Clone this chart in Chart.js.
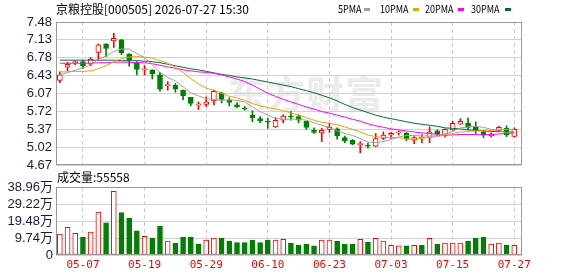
<!DOCTYPE html>
<html><head><meta charset="utf-8">
<script src="https://cdn.jsdelivr.net/npm/chart.js@4/dist/chart.umd.min.js"></script>
<style>
body{margin:0;background:#fff;}
#wrap{position:relative;width:578px;height:276px;overflow:hidden;font-family:'Noto Sans CJK SC',sans-serif;}
.t{position:absolute;white-space:nowrap;color:#000;}
canvas{position:absolute;left:0;}
.sw{position:absolute;top:8px;width:6px;height:3px;}
</style></head><body>
<div id="wrap">
 <div class="t" style="left:228px;top:64px;font-size:38px;font-weight:bold;color:#ebebeb;letter-spacing:1px;">东方财富</div>
 <canvas id="pc" width="578" height="178" style="top:0"></canvas>
 <canvas id="vc" width="578" height="106" style="top:170px"></canvas>
 <div class="t" style="left:56px;top:0px;font-size:12px;line-height:17px;">京粮控股[000505] 2026-07-27 15:30</div>
 <div class="t" style="left:338px;top:1px;font-size:11px;line-height:15px;transform:scaleX(0.82);transform-origin:left;">5PMA</div>
 <div class="sw" style="left:364px;background:#a0a0a0"></div>
 <div class="t" style="left:380px;top:1px;font-size:11px;line-height:15px;transform:scaleX(0.82);transform-origin:left;">10PMA</div>
 <div class="sw" style="left:413px;background:#f0a000"></div>
 <div class="t" style="left:425px;top:1px;font-size:11px;line-height:15px;transform:scaleX(0.82);transform-origin:left;">20PMA</div>
 <div class="sw" style="left:458px;background:#ff00ff"></div>
 <div class="t" style="left:471px;top:1px;font-size:11px;line-height:15px;transform:scaleX(0.82);transform-origin:left;">30PMA</div>
 <div class="sw" style="left:505px;background:#006e32"></div>
 <div class="t" style="left:57px;top:169px;font-size:12px;line-height:16px;">成交量:55558</div>
</div>
<script>
const dates = ['04-29','04-30','05-06','05-07','05-08','05-11','05-12','05-13','05-14','05-15',
 '05-18','05-19','05-20','05-21','05-22','05-25','05-26','05-27','05-28','05-29',
 '06-01','06-02','06-03','06-04','06-05','06-08','06-09','06-10','06-11','06-12',
 '06-15','06-16','06-17','06-18','06-22','06-23','06-24','06-25','06-26','06-29',
 '06-30','07-01','07-02','07-03','07-06','07-07','07-08','07-09','07-10','07-13',
 '07-14','07-15','07-16','07-17','07-20','07-21','07-22','07-23','07-24','07-27'];
const xTickIdx = [3,11,19,27,35,43,51,59];

const open  = [6.33,6.59,6.68,6.70,6.65,6.88,7.05,7.11,7.13,6.85,6.67,6.54,6.54,6.44,6.23,6.24,6.14,6.00,5.85,5.86,
               5.93,6.08,5.95,5.85,5.79,5.65,5.58,5.52,5.42,5.55,5.63,5.62,5.53,5.35,5.30,5.37,5.38,5.21,5.16,5.07,
               5.06,5.04,5.19,5.26,5.30,5.29,5.16,5.20,5.21,5.34,5.25,5.36,5.47,5.49,5.42,5.32,5.24,5.34,5.39,5.23];
const high  = [6.50,6.69,6.72,6.72,6.78,7.05,7.05,7.26,7.14,6.86,6.70,6.62,6.54,6.49,6.31,6.27,6.14,6.00,5.91,6.01,
               6.14,6.10,5.99,5.89,5.82,5.74,5.62,5.59,5.60,5.66,5.72,5.66,5.53,5.40,5.39,5.49,5.40,5.24,5.17,5.13,
               5.10,5.29,5.32,5.31,5.34,5.31,5.23,5.27,5.42,5.36,5.38,5.53,5.58,5.59,5.52,5.35,5.30,5.43,5.44,5.40];
const low   = [6.29,6.52,6.64,6.57,6.62,6.73,6.80,6.98,6.84,6.61,6.44,6.44,6.36,6.12,6.14,6.10,5.95,5.83,5.76,5.82,
               5.85,5.89,5.83,5.79,5.75,5.52,5.50,5.39,5.41,5.50,5.55,5.50,5.37,5.29,5.13,5.31,5.18,5.11,5.07,4.91,
               5.00,5.03,5.17,5.19,5.26,5.15,5.09,5.11,5.11,5.25,5.22,5.35,5.47,5.36,5.29,5.21,5.22,5.32,5.23,5.22];
const close = [6.44,6.65,6.70,6.62,6.75,7.03,6.96,7.16,6.87,6.74,6.55,6.56,6.46,6.16,6.24,6.16,6.03,5.88,5.85,5.91,
               6.12,5.96,5.90,5.81,5.77,5.60,5.54,5.51,5.55,5.63,5.61,5.55,5.41,5.31,5.35,5.41,5.24,5.15,5.08,5.09,
               5.04,5.19,5.26,5.29,5.31,5.18,5.21,5.20,5.32,5.28,5.37,5.49,5.53,5.41,5.36,5.26,5.28,5.41,5.26,5.37];
// volume in 万手
const volume = [12.0,15.9,12.4,10.1,13.2,24.6,18.5,36.5,24.3,21.2,13.9,10.7,9.7,16.6,8.0,6.9,10.3,10.3,6.3,8.6,
                9.7,9.7,8.0,7.1,7.1,8.6,7.1,8.6,8.6,9.0,6.9,5.7,6.3,5.2,8.6,8.6,8.0,6.3,6.3,9.0,
                7.4,9.5,8.0,5.5,5.2,5.2,5.5,5.5,9.5,6.3,6.9,6.9,6.9,8.0,9.7,10.3,6.3,6.9,5.7,5.5558];
const ma5  = [6.44,6.49,6.53,6.58,6.63,6.75,6.81,6.90,6.95,6.95,6.86,6.78,6.64,6.49,6.39,6.32,6.21,6.09,6.03,5.97,
              5.96,5.94,5.95,5.94,5.91,5.81,5.72,5.65,5.59,5.57,5.57,5.57,5.55,5.50,5.45,5.41,5.34,5.29,5.25,5.19,
              5.12,5.11,5.13,5.17,5.22,5.25,5.25,5.24,5.24,5.24,5.28,5.33,5.40,5.42,5.43,5.41,5.37,5.34,5.31,5.32];
const ma10 = [6.50,6.50,6.51,6.51,6.52,6.56,6.62,6.70,6.76,6.79,6.80,6.79,6.77,6.72,6.67,6.59,6.49,6.37,6.26,6.18,
              6.14,6.08,6.02,5.99,5.94,5.88,5.83,5.80,5.77,5.74,5.69,5.65,5.60,5.55,5.51,5.49,5.46,5.42,5.37,5.32,
              5.26,5.23,5.21,5.21,5.21,5.18,5.18,5.19,5.21,5.23,5.26,5.29,5.32,5.33,5.34,5.34,5.35,5.37,5.37,5.37];
const ma20 = [6.67,6.67,6.67,6.67,6.67,6.68,6.68,6.69,6.69,6.69,6.68,6.68,6.66,6.63,6.60,6.57,6.54,6.52,6.50,6.49,
              6.47,6.44,6.40,6.36,6.31,6.24,6.16,6.08,6.02,5.96,5.91,5.86,5.81,5.77,5.72,5.69,5.65,5.61,5.57,5.53,
              5.48,5.44,5.41,5.38,5.36,5.34,5.32,5.30,5.29,5.27,5.26,5.26,5.27,5.27,5.27,5.26,5.27,5.28,5.29,5.30];
const ma30 = [6.73,6.73,6.73,6.73,6.73,6.73,6.73,6.73,6.72,6.72,6.72,6.71,6.70,6.68,6.65,6.62,6.59,6.56,6.54,6.51,
              6.48,6.45,6.43,6.40,6.38,6.36,6.33,6.30,6.27,6.24,6.21,6.17,6.13,6.09,6.04,5.99,5.93,5.86,5.80,5.75,
              5.70,5.65,5.61,5.58,5.55,5.52,5.49,5.47,5.45,5.43,5.40,5.39,5.38,5.36,5.35,5.34,5.33,5.33,5.32,5.31];
const priceTickLabels = ['4.67','5.02','5.37','5.72','6.07','6.43','6.78','7.13','7.48'];
const volTickLabels = ['0','9.74万','19.48万','29.22万','38.96万'];

const UP = '#ff0000', DOWN = '#008000';
const priceMin = parseFloat(priceTickLabels[0]);
const priceMax = parseFloat(priceTickLabels[priceTickLabels.length - 1]);
const volMax = parseFloat(volTickLabels[volTickLabels.length - 1]);
const candleUp = i => close[i] >= open[i];
const volUp = i => close[i] > open[i] || (close[i] === open[i] && (i === 0 || close[i] >= close[i - 1]));

const boxPlugin = {
  id: 'box',
  afterDraw(chart) {
    const a = chart.chartArea, c = chart.ctx;
    c.save();
    c.strokeStyle = '#999999';
    c.lineWidth = 1;
    const l = Math.round(a.left) + 0.5, t = Math.round(a.top) + 0.5;
    const r = Math.round(a.right) - 0.5, b = Math.round(a.bottom) - 0.5;
    c.strokeRect(l, t, r - l, b - t);
    c.restore();
  }
};

const xScaleBase = {
  type: 'linear', min: -0.5, max: 60, offset: false,
  afterBuildTicks: s => { s.ticks = xTickIdx.map(v => ({ value: v })); },
  grid: { color: '#cccccc', drawTicks: false, offset: false },
  border: { display: false, dash: [4, 3] }
};
const yFont = { family: "'Liberation Sans', 'Noto Sans CJK SC', sans-serif", size: 13 };

const mkLine = (arr, col) => ({
  type: 'line', data: arr.map((v, i) => ({ x: i, y: v })), borderColor: col,
  borderWidth: 1, pointRadius: 0, tension: 0, order: 0
});

new Chart(document.getElementById('pc'), {
  type: 'bar',
  data: {
    datasets: [
      mkLine(ma5, '#a0a0a0'), mkLine(ma10, '#f0a000'), mkLine(ma20, '#ff00ff'), mkLine(ma30, '#006e32'),
      {
        type: 'bar', order: 1, grouped: false,
        data: open.map((o, i) => ({ x: i, y: [o, close[i]] })),
        backgroundColor: ctx => candleUp(ctx.dataIndex) ? '#ffffff' : DOWN,
        borderColor: ctx => candleUp(ctx.dataIndex) ? UP : DOWN,
        borderWidth: 1, borderSkipped: false, barThickness: 5, minBarLength: 1
      },
      {
        type: 'bar', order: 2, grouped: false,
        data: low.map((l, i) => ({ x: i, y: [l, high[i]] })),
        backgroundColor: ctx => candleUp(ctx.dataIndex) ? UP : DOWN,
        borderWidth: 0, barThickness: 1
      }
    ]
  },
  options: {
    responsive: false, animation: false, events: [],
    layout: { padding: { left: 0, right: 56, top: 22, bottom: 13 } },
    plugins: { legend: { display: false }, tooltip: { enabled: false } },
    scales: {
      x: Object.assign({}, xScaleBase, { ticks: { display: false }, afterFit: s => { s.height = 0; } }),
      y: {
        min: priceMin, max: priceMax,
        afterBuildTicks: s => { s.ticks = priceTickLabels.map((l, k) => ({ value: priceMin + k * (priceMax - priceMin) / (priceTickLabels.length - 1) })); },
        afterFit: s => { s.width = 56; },
        ticks: { callback: (v, i) => priceTickLabels[i], color: '#1a1a3c', font: yFont, padding: 4, autoSkip: false },
        grid: { color: '#d2d2d2', drawTicks: false },
        border: { display: false }
      }
    }
  },
  plugins: [boxPlugin]
});

new Chart(document.getElementById('vc'), {
  type: 'bar',
  data: {
    datasets: [{
      data: volume.map((v, i) => ({ x: i, y: v })),
      backgroundColor: ctx => volUp(ctx.dataIndex) ? '#ffffff' : DOWN,
      borderColor: ctx => volUp(ctx.dataIndex) ? UP : DOWN,
      borderWidth: 1, borderSkipped: false, barThickness: 5
    }]
  },
  options: {
    responsive: false, animation: false, events: [],
    layout: { padding: { left: 0, right: 56, top: 17, bottom: 0 } },
    plugins: { legend: { display: false }, tooltip: { enabled: false } },
    scales: {
      x: Object.assign({}, xScaleBase, {
        afterFit: s => { s.height = 21; },
        ticks: { callback: v => dates[v], color: '#ff0000', font: { family: "'DejaVu Sans Mono', monospace", size: 11 }, padding: 4, maxRotation: 0, autoSkip: false }
      }),
      y: {
        min: 0, max: volMax,
        afterBuildTicks: s => { s.ticks = volTickLabels.map((l, k) => ({ value: k * volMax / (volTickLabels.length - 1) })); },
        afterFit: s => { s.width = 56; },
        ticks: { callback: (v, i) => volTickLabels[i], color: '#1a1a3c', font: yFont, padding: 3, autoSkip: false },
        grid: { color: '#d2d2d2', drawTicks: false },
        border: { display: false }
      }
    }
  },
  plugins: [boxPlugin]
});
</script>
</body></html>
